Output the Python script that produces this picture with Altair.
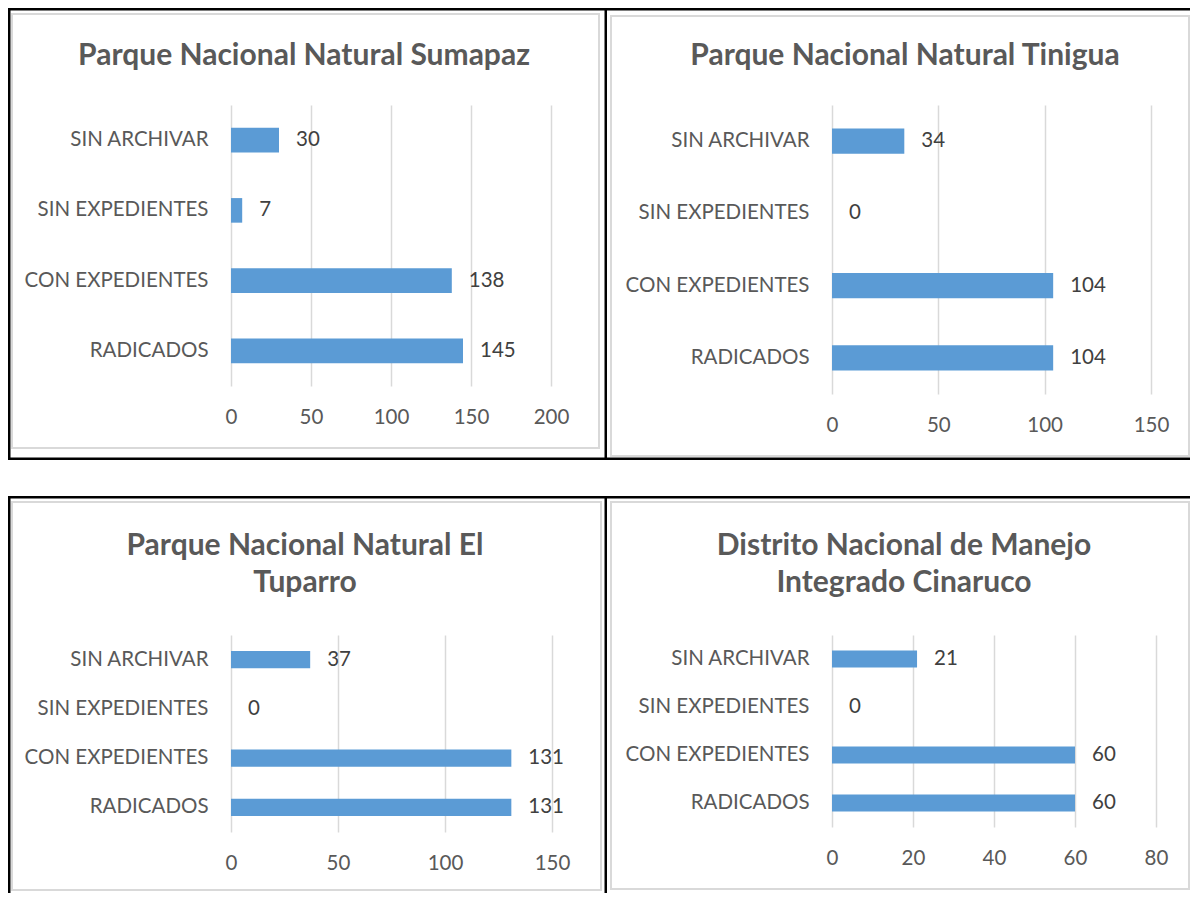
import altair as alt
import pandas as pd

categories = ["SIN ARCHIVAR", "SIN EXPEDIENTES", "CON EXPEDIENTES", "RADICADOS"]

title_sumapaz = "Parque Nacional Natural Sumapaz"
title_tinigua = "Parque Nacional Natural Tinigua"
title_tuparro = "Parque Nacional Natural El\nTuparro"
title_cinaruco = "Distrito Nacional de Manejo\nIntegrado Cinaruco"

values_sumapaz = [30, 7, 138, 145]
values_tinigua = [34, 0, 104, 104]
values_tuparro = [37, 0, 131, 131]
values_cinaruco = [21, 0, 60, 60]

ticks_sumapaz = [0, 50, 100, 150, 200]
ticks_tinigua = [0, 50, 100, 150]
ticks_tuparro = [0, 50, 100, 150]
ticks_cinaruco = [0, 20, 40, 60, 80]

FONT = "Lato"
BAR = "#5B9BD5"
GRID = "#D9D9D9"
TXT = "#595959"
VAL = "#404040"


def rect(x1, y1, x2, y2, ox, oy, **kw):
    return alt.Chart().mark_rect(**kw).encode(
        x=alt.value(x1 - ox), x2=alt.value(x2 - ox),
        y=alt.value(y1 - oy), y2=alt.value(y2 - oy),
    )


def panel(title, vals, ticks, geom):
    ox, oy, w, h = geom["plot"]
    df = pd.DataFrame({"cat": categories, "val": vals})
    yenc = alt.Y(
        "cat:N", sort=categories,
        scale=alt.Scale(paddingInner=0.65, paddingOuter=0.325),
        axis=alt.Axis(title=None, domain=False, ticks=False, labelPadding=23,
                      labelFontSize=20.5, labelColor=TXT, labelFont=FONT, grid=False,
                      labelLimit=400),
    )
    xenc = alt.X(
        "val:Q",
        scale=alt.Scale(domain=[ticks[0], ticks[-1]], nice=False),
        axis=alt.Axis(title=None, values=ticks, domain=False, ticks=False, grid=True,
                      gridColor=GRID, gridWidth=1.5, labelPadding=21, labelFontSize=20.5,
                      labelColor=TXT, labelFont=FONT, labelFlush=False),
    )
    bars = alt.Chart(df).mark_bar(color=BAR).encode(x=xenc, y=yenc)
    labels = alt.Chart(df).mark_text(
        align="left", baseline="middle", dx=17, fontSize=20.5, font=FONT, color=VAL
    ).encode(x="val:Q", y=alt.Y("cat:N", sort=categories), text="val:Q")

    layers = []
    for (x1, y1, x2, y2) in geom["black"]:
        layers.append(rect(x1, y1, x2, y2, ox, oy, color="black"))
    gx1, gy1, gx2, gy2 = geom["grey"]
    layers.append(rect(gx1, gy1, gx2, gy2, ox, oy, fill="white", fillOpacity=0,
                       stroke=GRID, strokeWidth=2))
    tx, ty = geom["title"]
    ttl = alt.Chart().mark_text(
        align="center", baseline="middle", fontSize=30, fontWeight="bold",
        font=FONT, color=TXT, lineBreak="\n", lineHeight=37,
    ).encode(x=alt.value(tx - ox), y=alt.value(ty - oy), text=alt.value(title))
    layers += [bars, labels, ttl]
    return alt.layer(*layers).properties(width=w, height=h)


# page-pixel geometry; the whole drawing is kept inside 8..1190 x 8..893
geom_tl = {
    "plot": (231, 105, 320, 281),
    "black": [(8, 8, 607, 10.5), (8, 8, 10.5, 460), (8, 457.5, 607, 460), (604.5, 8, 607, 460)],
    "grey": (12, 14, 599, 448),
    "title": (304, 56),
}
geom_tr = {
    "plot": (832, 105, 319, 289),
    "black": [(607, 8, 1190, 10.5), (607, 457.5, 1190, 460)],
    "grey": (611, 16, 1189, 456),
    "title": (905, 56),
}
geom_bl = {
    "plot": (231, 635, 321, 197),
    "black": [(8, 496, 607, 498.5), (8, 496, 10.5, 893), (604.5, 496, 607, 893)],
    "grey": (12, 502, 601, 890),
    "title": (305, 546),
}
geom_br = {
    "plot": (832, 635, 324, 192),
    "black": [(607, 496, 1190, 498.5)],
    "grey": (611, 502, 1189, 889),
    "title": (904, 546),
}

tl = panel(title_sumapaz, values_sumapaz, ticks_sumapaz, geom_tl)
tr = panel(title_tinigua, values_tinigua, ticks_tinigua, geom_tr)
bl = panel(title_tuparro, values_tuparro, ticks_tuparro, geom_bl)
br = panel(title_cinaruco, values_cinaruco, ticks_cinaruco, geom_br)

col_w = 321
row_h = 289
col_gap = 832 - (231 + col_w)
row_gap = 635 - (105 + row_h)

chart = alt.concat(
    tl, tr, bl, br, columns=2, bounds="flush",
    spacing={"row": row_gap, "column": col_gap},
).properties(padding=0, background="white").configure_view(strokeWidth=0)

chart.save("out.html", embed_options={"renderer": "svg", "actions": False})
